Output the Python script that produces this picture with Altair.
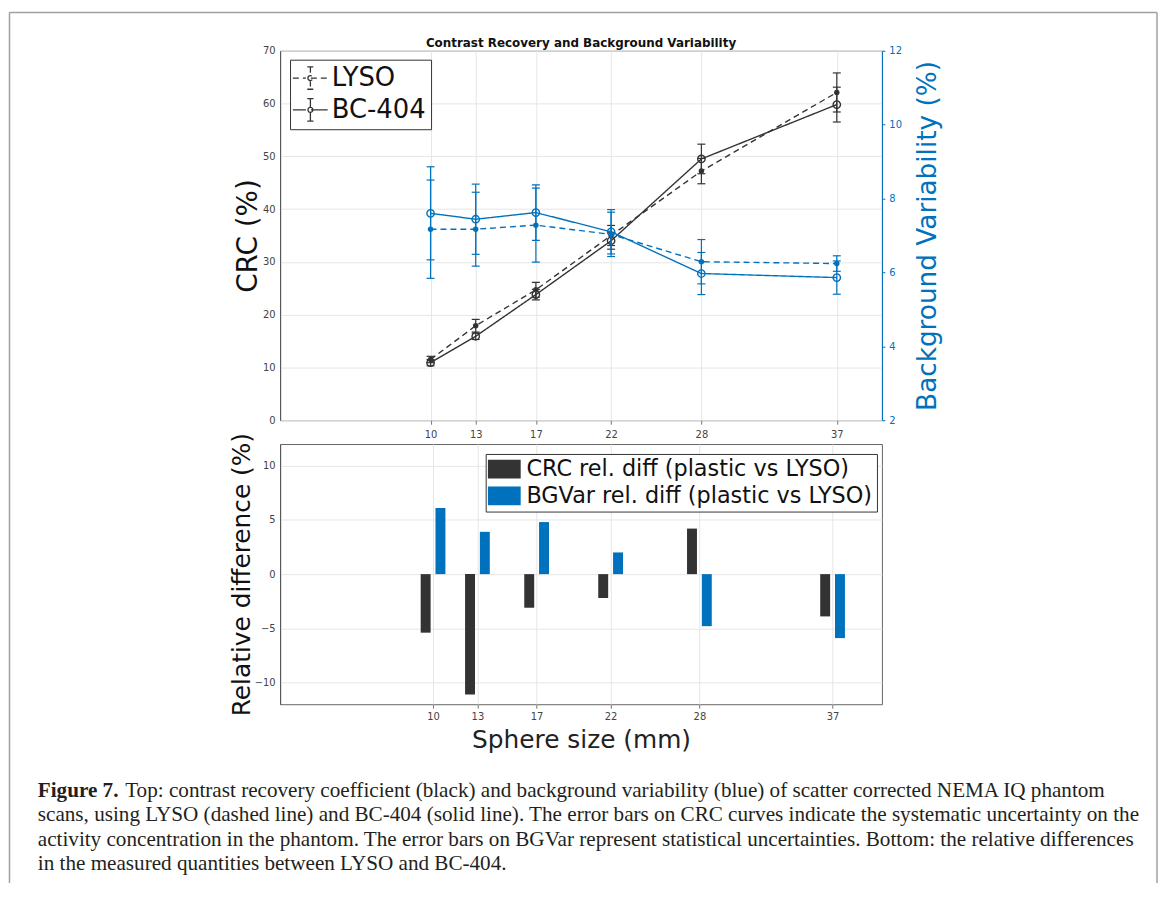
import altair as alt
import pandas as pd

# ---------------- data ----------------
sizes = [10, 13, 17, 22, 28, 37]
series_names = ["LYSO", "BC-404"]

crc_lyso = [11.5, 17.9, 24.7, 35.0, 47.2, 62.1]
crc_lyso_err = [0.6, 1.2, 1.4, 1.9, 2.4, 3.7]
crc_bc = [10.9, 15.9, 23.8, 34.0, 49.5, 59.8]
crc_bc_err = [0.6, 0.6, 1.0, 1.6, 2.8, 3.3]

bg_lyso = [7.17, 7.17, 7.28, 7.03, 6.29, 6.24]
bg_lyso_err = [1.33, 1.0, 1.0, 0.6, 0.6, 0.21]
bg_bc = [7.60, 7.44, 7.62, 7.10, 5.97, 5.86]
bg_bc_err = [1.26, 0.95, 0.75, 0.6, 0.57, 0.45]

diff_names = ["CRC rel. diff (plastic vs LYSO)", "BGVar rel. diff (plastic vs LYSO)"]
crc_reldiff = [-5.4, -11.1, -3.1, -2.2, 4.2, -3.9]
bg_reldiff = [6.1, 3.9, 4.8, 2.0, -4.8, -5.9]

crc_ticks = [0, 10, 20, 30, 40, 50, 60, 70]
bg_ticks = [2, 4, 6, 8, 10, 12]
diff_ticks = [-10, -5, 0, 5, 10]

title_text = "Contrast Recovery and Background Variability"
caption_bold = "Figure 7."
caption_lines = [
    "Top: contrast recovery coefficient (black) and background variability (blue) of scatter corrected NEMA IQ phantom",
    "scans, using LYSO (dashed line) and BC-404 (solid line). The error bars on CRC curves indicate the systematic uncertainty on the",
    "activity concentration in the phantom. The error bars on BGVar represent statistical uncertainties. Bottom: the relative differences",
    "in the measured quantities between LYSO and BC-404.",
]

# ---------------- tables ----------------
rows = []
for i, s in enumerate(sizes):
    rows.append(dict(size=s, series="LYSO", crc=crc_lyso[i], crc_err=crc_lyso_err[i],
                     bg=bg_lyso[i], bg_err=bg_lyso_err[i]))
    rows.append(dict(size=s, series="BC-404", crc=crc_bc[i], crc_err=crc_bc_err[i],
                     bg=bg_bc[i], bg_err=bg_bc_err[i]))
top_df = pd.DataFrame(rows)

brows = []
for i, s in enumerate(sizes):
    brows.append(dict(size=s, metric=diff_names[0], value=crc_reldiff[i]))
    brows.append(dict(size=s, metric=diff_names[1], value=bg_reldiff[i]))
bot_df = pd.DataFrame(brows)

# ---------------- styling ----------------
FONT = "DejaVu Sans"
SERIF = "Liberation Serif"
BLUE = "#0072BD"
DARK = "#333333"
GRID = "#e6e6e6"
LAB = "#444444"

W, H_TOP, H_BOT = 606, 372, 262

xscale = alt.Scale(domain=[0, 40], nice=False)


def x_axis(title=None, pad=3):
    return alt.Axis(values=sizes, title=title, grid=True, gridColor=GRID, labelFontSize=10,
                    labelColor=LAB, tickSize=4, tickColor="#777", labelPadding=pad, domain=False,
                    titleFontSize=25, titleFontWeight="normal", titleColor="#222",
                    titlePadding=7, labelFont=FONT, titleFont=FONT)


yL_scale = alt.Scale(domain=[0, 70], nice=False)
yL_axis = alt.Axis(values=crc_ticks, title="CRC (%)", grid=True, gridColor=GRID, labelFontSize=10,
                   labelColor=LAB, ticks=False, labelPadding=5, domainColor="#555",
                   titleFontSize=28, titleFontWeight="normal", titleColor="#111", titlePadding=0)
yR_scale = alt.Scale(domain=[2, 12], nice=False)
yR_axis = alt.Axis(values=bg_ticks, title="Background Variability (%)", orient="right", grid=False,
                   labelFontSize=10, labelColor=BLUE, tickColor=BLUE, tickSize=3, labelPadding=4,
                   domainColor=BLUE, titleFontSize=26.5, titleFontWeight="normal", titleColor=BLUE,
                   titleAngle=270, titleBaseline="top", titlePadding=13)

dash_scale = alt.Scale(domain=series_names, range=[[6, 4], [1, 0]])
legend_path = ("M-1.25,0H-0.2M0.2,0H1.55M0.16,-0.9V-0.2M0.16,0.2V0.9M-0.09,-0.9H0.41M-0.09,0.9H0.41"
               "M-0.04,0A0.2,0.2 0 1,0 0.36,0A0.2,0.2 0 1,0 -0.04,0")
top_legend = alt.Legend(title=None, orient="none", legendX=10, legendY=9, symbolType=legend_path,
                        symbolSize=625, symbolStrokeColor=DARK, symbolStrokeWidth=1.3,
                        symbolFillColor="transparent", labelFontSize=26, labelFont=FONT,
                        labelColor="#111", strokeColor="#333", fillColor="white", padding=5,
                        rowPadding=3, labelOffset=10, symbolOffset=0, labelLimit=0)

X = alt.X("size:Q", scale=xscale, axis=x_axis(pad=5))

base = alt.Chart(top_df).transform_calculate(
    crc_lo="datum.crc - datum.crc_err", crc_hi="datum.crc + datum.crc_err",
    bg_lo="datum.bg - datum.bg_err", bg_hi="datum.bg + datum.bg_err")


def panel(val, lo, hi, scale, axis, color):
    def Y(f):
        return alt.Y(f"{f}:Q", scale=scale, axis=axis, title=axis.title)
    line = base.mark_line(color=color, strokeWidth=1.4).encode(
        x=X, y=Y(val), strokeDash=alt.StrokeDash("series:N", scale=dash_scale, legend=top_legend,
                                                  sort=series_names))
    err = base.mark_rule(color=color, strokeWidth=1.2).encode(
        x=X, y=Y(lo), y2=f"{hi}:Q", detail="series:N")
    caps = base.transform_fold([lo, hi], as_=["k", "v"]).mark_tick(
        color=color, orient="horizontal", size=8, thickness=1.2, opacity=1).encode(x=X, y=Y("v"))
    p_filled = base.transform_filter("datum.series == 'LYSO'").mark_point(
        shape="circle", filled=True, size=30, color=color, opacity=1).encode(x=X, y=Y(val))
    p_open = base.transform_filter("datum.series == 'BC-404'").mark_point(
        shape="circle", filled=False, size=55, color=color, strokeWidth=1.4, opacity=1).encode(
        x=X, y=Y(val))
    return alt.layer(line, err, caps, p_filled, p_open)


crc_panel = panel("crc", "crc_lo", "crc_hi", yL_scale, yL_axis, DARK)
bg_panel = panel("bg", "bg_lo", "bg_hi", yR_scale, yR_axis, BLUE)

top = alt.layer(crc_panel, bg_panel).resolve_scale(y="independent").properties(
    width=W, height=H_TOP,
    title=alt.Title(title_text, fontSize=12, fontWeight="bold", font=FONT, color="#111",
                    offset=-4, anchor="middle"))

# ---------------- bottom panel ----------------
color_scale = alt.Scale(domain=diff_names, range=[DARK, BLUE])
rect_path = "M-1.3,-0.95H2.0V0.95H-1.3Z"
bot_legend = alt.Legend(title=None, orient="none", legendX=207, legendY=10, symbolType=rect_path,
                        symbolSize=400, symbolStrokeWidth=0, labelFontSize=22.5, labelFont=FONT,
                        labelColor="#111", strokeColor="#333", fillColor="white", padding=4,
                        rowPadding=4, labelOffset=14.5, symbolOpacity=1, labelLimit=0)

bars = alt.Chart(bot_df).transform_calculate(
    xpos=f"datum.size + (datum.metric == '{diff_names[0]}' ? -0.5 : 0.5)"
).mark_bar(size=10, opacity=1).encode(
    x=alt.X("xpos:Q", scale=xscale, axis=x_axis("Sphere size (mm)")),
    y=alt.Y("value:Q", scale=alt.Scale(domain=[-12, 12], nice=False),
            axis=alt.Axis(values=diff_ticks, title="Relative difference (%)", grid=True,
                          gridColor=GRID, labelFontSize=10, labelColor=LAB, ticks=False,
                          labelPadding=5, domainColor="#555", titleFontSize=25,
                          titleFontWeight="normal", titleColor="#111", titlePadding=0)),
    color=alt.Color("metric:N", scale=color_scale, legend=bot_legend, sort=diff_names),
)

one = alt.Data(values=[{"k": 0}])
# caption (pixel offsets relative to the bottom plot origin)
cap_x = -244
cap_base = 355.5
cap_step = 24.5
CAP_SIZE = 21.3
cap_layers = [
    alt.Chart(one).mark_text(text=caption_bold, font=SERIF, fontSize=CAP_SIZE, fontWeight="bold",
                             align="left", baseline="alphabetic", color="#231f20").encode(
        x=alt.value(cap_x), y=alt.value(cap_base))
]
for i, line in enumerate(caption_lines):
    cap_layers.append(
        alt.Chart(one).mark_text(text=line, font=SERIF, fontSize=CAP_SIZE, align="left",
                                 baseline="alphabetic", color="#231f20").encode(
            x=alt.value(cap_x + (88 if i == 0 else 0)), y=alt.value(cap_base + i * cap_step)))

B_TOP = -434.5
border = [
    alt.Chart(one).mark_rule(color="#a0a0a0", strokeWidth=1.5).encode(
        x=alt.value(-272.5), y=alt.value(B_TOP), y2=alt.value(442)),
    alt.Chart(one).mark_rule(color="#a0a0a0", strokeWidth=1.5).encode(
        x=alt.value(883), y=alt.value(B_TOP), y2=alt.value(442)),
    alt.Chart(one).mark_rule(color="#a0a0a0", strokeWidth=1.5).encode(
        x=alt.value(-272.5), x2=alt.value(883), y=alt.value(B_TOP)),
]

bottom = alt.layer(bars, *cap_layers, *border).properties(width=W, height=H_BOT)

chart = alt.vconcat(top, bottom, spacing=24, bounds="flush").resolve_scale(
    color="independent", strokeDash="independent", x="independent"
).properties(padding={"left": 0, "top": 0, "right": 0, "bottom": 0}).configure_view(
    stroke="#666", strokeWidth=1
).configure_axis(labelFont=FONT, titleFont=FONT)

chart.save("out.html", embed_options={"renderer": "svg", "actions": False})
